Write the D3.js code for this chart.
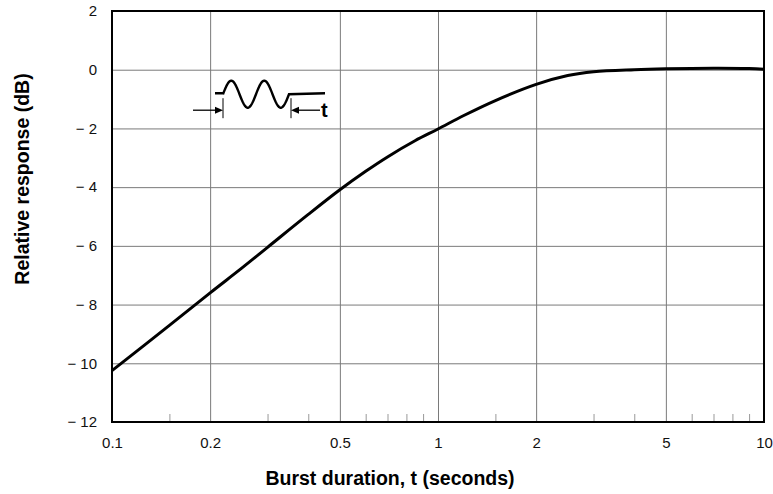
<!DOCTYPE html>
<html>
<head>
<meta charset="utf-8">
<script src="https://cdn.jsdelivr.net/npm/d3@7"></script>
<style>
  html, body { margin: 0; padding: 0; background: #fff; }
  svg { display: block; font-family: "Liberation Sans", Arial, sans-serif; }
</style>
</head>
<body>
<svg id="chart" width="773" height="494"></svg>
<script>
// ---- data ----
const durations = [0.1, 0.15, 0.2, 0.25, 0.3, 0.4, 0.5, 0.6, 0.7, 0.85, 1, 1.2, 1.5, 2, 2.5, 3, 4, 5, 7, 9, 10];
const responseDb = [-10.25, -8.71, -7.6, -6.76, -6.05, -4.93, -4.09, -3.46, -2.97, -2.42, -2.02, -1.56, -1.05, -0.5, -0.2, -0.07, 0.0, 0.03, 0.05, 0.04, 0.02];
const xMajorTicks = [0.1, 0.2, 0.5, 1, 2, 5, 10];
const xTickLabels = ["0.1", "0.2", "0.5", "1", "2", "5", "10"];
const xMinorTicks = [0.15, 0.3, 0.4, 0.6, 0.7, 0.8, 0.9, 1.5, 3, 4, 6, 7, 8, 9];
const yTicks = [2, 0, -2, -4, -6, -8, -10, -12];
const yTickLabels = ["2", "0", "\u2212 2", "\u2212 4", "\u2212 6", "\u2212 8", "\u2212 10", "\u2212 12"];
const xTitle = "Burst duration, t (seconds)";
const yTitle = "Relative response (dB)";
const insetAnchor = { t: 0.207, db: -0.8 };

// ---- layout ----
const svg = d3.select("#chart");
const margin = { left: 112, right: 9, top: 11, bottom: 72 };
const W = 773, H = 494;
const iw = W - margin.left - margin.right;
const ih = H - margin.top - margin.bottom;

const x = d3.scaleLog().domain([0.1, 10]).range([0, iw]);
const y = d3.scaleLinear().domain([-12, 2]).range([ih, 0]);

const g = svg.append("g").attr("transform", `translate(${margin.left},${margin.top})`);

// vertical grid
g.append("g")
  .attr("transform", `translate(0,${ih})`)
  .call(d3.axisBottom(x).tickValues(xMajorTicks.slice(1, -1)).tickSize(-ih).tickFormat(""))
  .call(s => s.select(".domain").remove())
  .call(s => s.selectAll("line").attr("stroke", "#7a7a7a").attr("stroke-width", 1));

// horizontal grid
g.append("g")
  .call(d3.axisLeft(y).tickValues(yTicks.slice(1, -1)).tickSize(-iw).tickFormat(""))
  .call(s => s.select(".domain").remove())
  .call(s => s.selectAll("line").attr("stroke", "#7a7a7a").attr("stroke-width", 1));

// minor ticks on bottom
g.append("g")
  .attr("transform", `translate(0,${ih})`)
  .call(d3.axisBottom(x).tickValues(xMinorTicks).tickSize(-8).tickFormat(""))
  .call(s => s.select(".domain").remove())
  .call(s => s.selectAll("line").attr("stroke", "#999").attr("stroke-width", 1));

// x labels
g.append("g")
  .attr("transform", `translate(0,${ih})`)
  .call(d3.axisBottom(x).tickValues(xMajorTicks).tickSize(0).tickPadding(15)
    .tickFormat((d, i) => xTickLabels[i]))
  .call(s => s.select(".domain").remove())
  .call(s => s.selectAll("text").attr("font-size", 15).attr("fill", "#111")
    .attr("font-family", "Liberation Sans, Arial, sans-serif"));

// y labels
g.append("g")
  .call(d3.axisLeft(y).tickValues(yTicks).tickSize(0).tickPadding(15)
    .tickFormat((d, i) => yTickLabels[i]))
  .call(s => s.select(".domain").remove())
  .call(s => s.selectAll("text").attr("font-size", 15).attr("fill", "#111")
    .attr("font-family", "Liberation Sans, Arial, sans-serif"));

// curve
const line = d3.line()
  .x((d, i) => x(durations[i]))
  .y(d => y(d))
  .curve(d3.curveCatmullRom.alpha(0.5));
g.append("path")
  .datum(responseDb)
  .attr("fill", "none")
  .attr("stroke", "#000")
  .attr("stroke-width", 3)
  .attr("stroke-linejoin", "round")
  .attr("d", line);

// frame
g.append("rect")
  .attr("x", 0).attr("y", 0).attr("width", iw).attr("height", ih)
  .attr("fill", "none").attr("stroke", "#000").attr("stroke-width", 2);

// inset: tone burst symbol
const x0 = x(insetAnchor.t), y0 = y(insetAnchor.db);
const ins = g.append("g").attr("fill", "none").attr("stroke", "#000");
const period = 33, amp = 13.5, startW = 8, endW = 36;
const pts = [[x0, y0], [x0 + startW, y0]];
for (let k = 0; k <= 132; k++) {
  const xx = x0 + startW + (2 * period) * k / 132;
  pts.push([xx, y0 + 1 - amp * Math.sin(2 * Math.PI * (xx - x0 - startW) / period)]);
}
pts.push([x0 + startW + 2 * period + endW, y0]);
ins.append("path").attr("d", d3.line()(pts)).attr("stroke-width", 2.4);
// markers
const m1 = x0 + startW, m2 = x0 + startW + 2 * period + 2;
[m1, m2].forEach(mx => ins.append("line").attr("x1", mx).attr("x2", mx)
  .attr("y1", y0 + 5).attr("y2", y0 + 25).attr("stroke-width", 1));
const ay = y0 + 17;
ins.append("line").attr("x1", x0 - 22).attr("x2", m1 - 6).attr("y1", ay).attr("y2", ay).attr("stroke-width", 1.3);
ins.append("path").attr("d", `M${m1},${ay} L${m1 - 8},${ay - 3.5} L${m1 - 8},${ay + 3.5} Z`).attr("fill", "#000").attr("stroke", "none");
ins.append("line").attr("x1", m2 + 6).attr("x2", m2 + 29).attr("y1", ay).attr("y2", ay).attr("stroke-width", 1.3);
ins.append("path").attr("d", `M${m2},${ay} L${m2 + 8},${ay - 3.5} L${m2 + 8},${ay + 3.5} Z`).attr("fill", "#000").attr("stroke", "none");
g.append("text").attr("x", m2 + 30).attr("y", ay + 7)
  .attr("font-size", 20).attr("font-weight", "bold").attr("fill", "#000").text("t");

// titles
svg.append("text")
  .attr("x", 390).attr("y", 485)
  .attr("text-anchor", "middle")
  .attr("font-size", 19.5).attr("font-weight", "bold").attr("fill", "#000")
  .text(xTitle);
svg.append("text")
  .attr("transform", "translate(29,179) rotate(-90)")
  .attr("text-anchor", "middle")
  .attr("font-size", 19.5).attr("font-weight", "bold").attr("fill", "#000")
  .text(yTitle);
</script>
</body>
</html>
